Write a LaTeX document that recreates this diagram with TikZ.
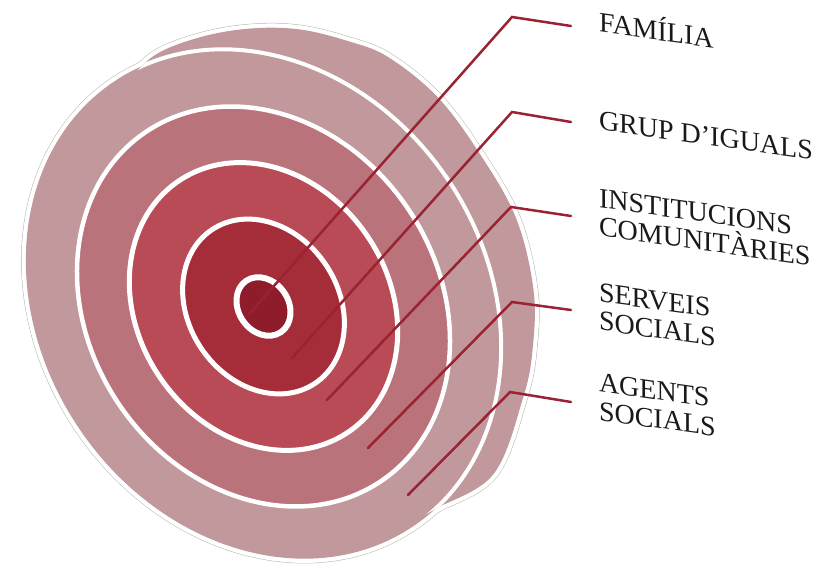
\documentclass[tikz,border=0pt]{standalone}
\usepackage{fontspec}
\setmainfont{Liberation Serif}
\definecolor{cOuter}{HTML}{C1989B}
\definecolor{cRfour}{HTML}{BA737A}
\definecolor{cRthree}{HTML}{B84B56}
\definecolor{cRtwo}{HTML}{A52D3A}
\definecolor{cRone}{HTML}{8E1C2B}
\definecolor{cLine}{HTML}{9A2232}
\definecolor{cRim}{HTML}{B4B4B4}
\begin{document}
\begin{tikzpicture}[x=1pt,y=-1pt,
  leader/.style={draw=cLine, line width=2.5pt, line cap=round},
  lbl/.style={anchor=base west, inner sep=0pt, outer sep=0pt, yslant=-0.14,
    font=\fontsize{28}{28.5}\selectfont, align=left, text=black!90},
  ringline/.style={draw=white, line width=#1},
]
\useasboundingbox (0,0) rectangle (825,569);

% back shape (open rim curve)
\def\backcurve{plot[smooth, tension=0.6] coordinates {(126,84) (155,55) (201,37) (251,28.5) (300,29.5) (349,41.4) (388,57) (437,96.5) (479,152.6) (516,218) (533.5,290) (532.6,349) (523,398) (493.6,474) (437,508) (417,519)}}
\def\frontdisc{(263.5,304) ellipse [x radius=222.5, y radius=268]}

% rim strokes
\draw[cRim, line width=9.5pt] \backcurve;
\draw[cRim, line width=9.5pt, rotate around={34:(263.5,304)}] \frontdisc;
\draw[white, line width=8.5pt] \backcurve;
\draw[white, line width=8.5pt, rotate around={34:(263.5,304)}] \frontdisc;

% fills
\fill[cOuter] \backcurve -- (263,304) -- cycle;
\fill[cOuter, rotate around={34:(263.5,304)}] \frontdisc;

% front disc edge inside back shape
\begin{scope}
  \clip \backcurve -- (263,304) -- cycle;
  \draw[white, line width=4pt, rotate around={34:(263.5,304)}] \frontdisc;
\end{scope}

% rings
\filldraw[fill=cRfour, ringline=4.5pt, rotate around={34:(263.5,306.5)}] (263.5,306.5) ellipse [x radius=174.5, y radius=210.5];
\filldraw[fill=cRthree, ringline=5pt, rotate around={34:(263.5,306.5)}] (263.5,306.5) ellipse [x radius=125.5, y radius=151.5];
\filldraw[fill=cRtwo, ringline=5pt, rotate around={34:(263.5,306.5)}] (263.5,306.5) ellipse [x radius=75, y radius=92.5];
\filldraw[fill=cRone, ringline=6pt, rotate around={34:(263.5,306.5)}] (263.5,306.5) ellipse [x radius=25, y radius=31];

% leader coordinates
\coordinate (p1) at (250,313);
\coordinate (k1) at (512,17);
\coordinate (q1) at (571,26);
\coordinate (p2) at (292,358);
\coordinate (k2) at (512,112);
\coordinate (q2) at (571,122);
\coordinate (p3) at (327,400);
\coordinate (k3) at (511,207);
\coordinate (q3) at (571,216);
\coordinate (p4) at (368,448);
\coordinate (k4) at (512,302);
\coordinate (q4) at (571,310);
\coordinate (p5) at (408,495);
\coordinate (k5) at (510,392);
\coordinate (q5) at (571,402);

\draw[leader] (p1) -- (k1) -- (q1);
\draw[leader] (p2) -- (k2) -- (q2);
\draw[leader] (p3) -- (k3) -- (q3);
\draw[leader] (p4) -- (k4) -- (q4);
\draw[leader] (p5) -- (k5) -- (q5);

% labels (base anchor of a two-line node is its last line)
\node[lbl] (l1) at (599,32) {FAMÍLIA};
\node[lbl] (l2) at (599,130) {GRUP D’IGUALS};
\node[lbl] (l3) at (599,236) {INSTITUCIONS\\COMUNITÀRIES};
\node[lbl] (l4) at (599,330) {SERVEIS\\SOCIALS};
\node[lbl] (l5) at (599,420) {AGENTS\\SOCIALS};
\end{tikzpicture}
\end{document}
